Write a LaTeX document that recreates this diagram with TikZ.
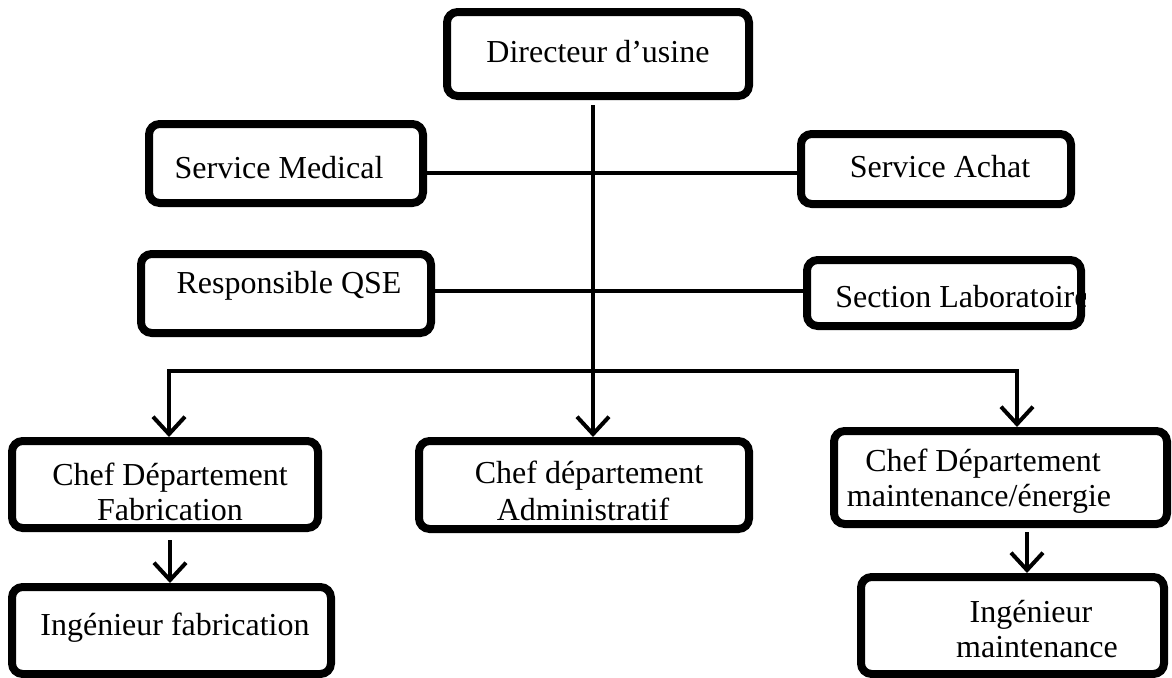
\documentclass[tikz,border=0pt]{standalone}
\usepackage{fontspec}
\setmainfont{Liberation Serif}
\usetikzlibrary{arrows.meta,fit}
\begin{document}
\begin{tikzpicture}[x=0.75pt,y=-0.75pt,
  box/.style={draw=black,line width=6pt,rounded corners=8pt,fill=white,inner sep=0pt},
  conn/.style={draw=black,line width=3pt},
  tip/.style={-{Straight Barb[length=13pt,width=24pt,line width=3pt]}},
  txt/.style={anchor=base,inner sep=0pt,font=\fontsize{24}{28}\selectfont}]
\useasboundingbox[fill=white] (0,0) rectangle (1172,678);
% boxes
\node[box,fit={(447,12) (749,96)}] (dir) {};
\node[box,fit={(149,124) (423,203)}] (med) {};
\node[box,fit={(801,134) (1071,204)}] (ach) {};
\node[box,fit={(141,254) (431,333)}] (qse) {};
\node[box,fit={(807,260) (1081,326)}] (lab) {};
\node[box,fit={(12,441) (318,528)}] (fab) {};
\node[box,fit={(419,441) (749,529)}] (adm) {};
\node[box,fit={(834,431) (1167,524)}] (mai) {};
\node[box,fit={(12,587) (331,674)}] (ingf) {};
\node[box,fit={(861,577) (1164,674)}] (ingm) {};
% texts
\node[txt] (tdir) at (598,62) {Directeur d’usine};
\node[txt] (tmed) at (279,178) {Service Medical};
\node[txt] (tach) at (940,177) {Service Achat};
\node[txt] (tqse) at (289,293) {Responsible QSE};
\begin{scope}
\clip (lab.north west) rectangle (lab.south east);
\node[txt,anchor=base west] (tlab) at (835,307) {Section Laboratoire};
\end{scope}
\node[txt] (tfab1) at (170,485) {Chef Département};
\node[txt] (tfab2) at (170,520) {Fabrication};
\node[txt] (tadm1) at (589,483) {Chef département};
\node[txt] (tadm2) at (583,520) {Administratif};
\node[txt] (tmai1) at (983,471) {Chef Département};
\node[txt] (tmai2) at (979,506) {maintenance/énergie};
\node[txt] (tingf) at (175,635) {Ingénieur fabrication};
\node[txt] (tingm1) at (1031,622) {Ingénieur};
\node[txt] (tingm2) at (1037,657) {maintenance};
% connectors
\coordinate (top) at (593,105);
\draw[conn] (med.east |- 0,173) -- (ach.west |- 0,173);
\draw[conn] (qse.east |- 0,291) -- (lab.west |- 0,291);
\coordinate (bl) at (169,371);
\coordinate (br) at (1017,371);
\draw[conn,{Straight Barb[length=13pt,width=24pt,line width=3pt]}-{Straight Barb[length=13pt,width=24pt,line width=3pt]}]
  (bl |- fab.north) -- (bl) -- (br) -- (br |- mai.north);
\draw[conn,tip] (top) -- (top |- adm.north);
\coordinate (f1) at (170,540);
\draw[conn,tip] (f1) -- (f1 |- ingf.north);
\coordinate (m1) at (1027,532);
\draw[conn,tip] (m1) -- (m1 |- ingm.north);
\end{tikzpicture}
\end{document}
